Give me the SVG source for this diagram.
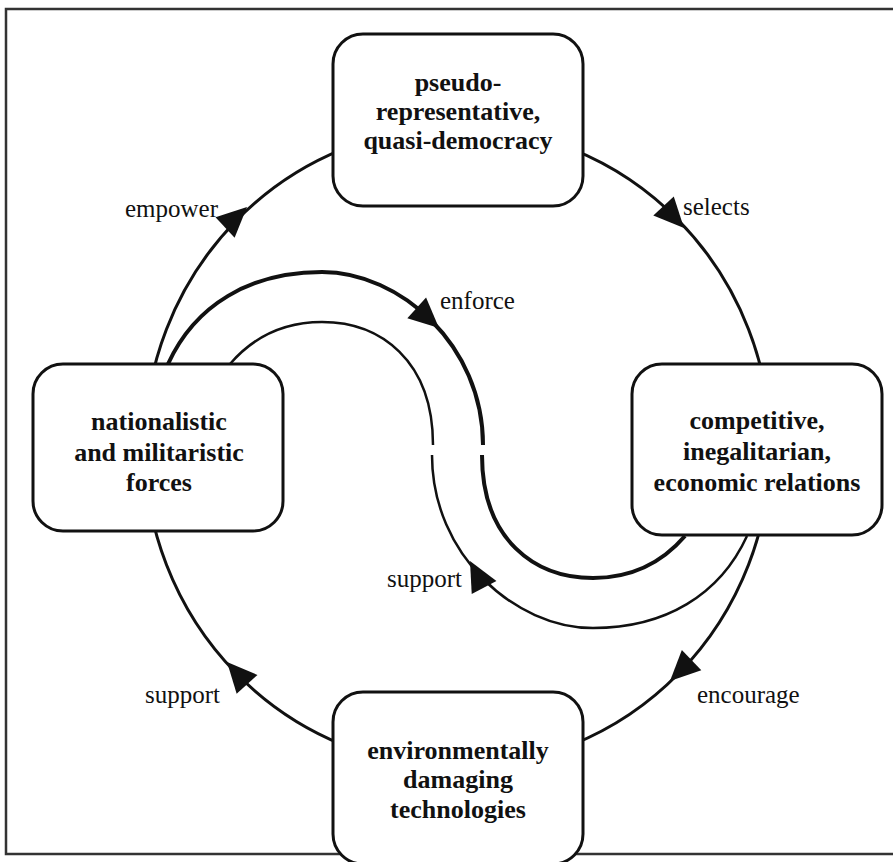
<svg xmlns="http://www.w3.org/2000/svg" width="893" height="862" viewBox="0 0 893 862">
<style>
.frame{fill:#fff;stroke:#333;stroke-width:2.5}
.box{fill:#fff;stroke:#111;stroke-width:3}
.ring{fill:none;stroke:#111;stroke-width:3}
.thick{fill:none;stroke:#111;stroke-width:4}
.thin{fill:none;stroke:#111;stroke-width:2.5}
.nt{font-family:"Liberation Serif","Times New Roman",serif;font-weight:bold;font-size:26px;fill:#111;text-anchor:middle}
.lb{font-family:"Liberation Serif","Times New Roman",serif;font-size:25px;fill:#111}
</style>
<defs>
<path id="ah" d="M0,0 L-30,-14 L-30,14 Z" fill="#111"/>
</defs>
<rect class="frame" x="6" y="9" width="900" height="845"/>
<g id="connectors">
<ellipse class="ring" cx="457.5" cy="447" rx="313" ry="320"/>
<use href="#ah" transform="translate(247,207) rotate(-43)"/>
<use href="#ah" transform="translate(684,228) rotate(47)"/>
<use href="#ah" transform="translate(670,681) rotate(136)"/>
<use href="#ah" transform="translate(227,662) rotate(-132)"/>
<path class="thick" d="M168,364 C195,305 250,272 322,272 C400,272 483,345 483,445"/>
<path class="thick" d="M482,455 C482,540 535,578 593,578 C630,578 660,565 685,536"/>
<path class="thin" d="M230,364 C255,335 285,322 322,322 C380,322 433,360 433,445"/>
<path class="thin" d="M432,455 C432,555 515,628 593,628 C665,628 720,595 747,536"/>
<use href="#ah" transform="translate(439,328) rotate(42)"/>
<use href="#ah" transform="translate(470,561) rotate(-118)"/>
<text class="lb" x="125" y="217">empower</text>
<text class="lb" x="683" y="215">selects</text>
<text class="lb" x="440" y="309">enforce</text>
<text class="lb" x="387" y="587">support</text>
<text class="lb" x="697" y="703">encourage</text>
<text class="lb" x="145" y="703">support</text>
</g>
<g id="node-top">
<rect class="box" x="333" y="34" width="250" height="172" rx="30"/>
<text class="nt" x="458" y="91">pseudo-</text>
<text class="nt" x="458" y="120">representative,</text>
<text class="nt" x="458" y="149">quasi-democracy</text>
</g>
<g id="node-left">
<rect class="box" x="33" y="364" width="250" height="167" rx="30"/>
<text class="nt" x="159" y="430">nationalistic</text>
<text class="nt" x="159" y="461">and militaristic</text>
<text class="nt" x="159" y="491">forces</text>
</g>
<g id="node-right">
<rect class="box" x="632" y="364" width="250" height="171" rx="30"/>
<text class="nt" x="757" y="429">competitive,</text>
<text class="nt" x="757" y="460">inegalitarian,</text>
<text class="nt" x="757" y="491">economic relations</text>
</g>
<g id="node-bottom">
<rect class="box" x="333" y="692" width="250" height="172" rx="30"/>
<text class="nt" x="458" y="759">environmentally</text>
<text class="nt" x="458" y="788">damaging</text>
<text class="nt" x="458" y="818">technologies</text>
</g>
</svg>
